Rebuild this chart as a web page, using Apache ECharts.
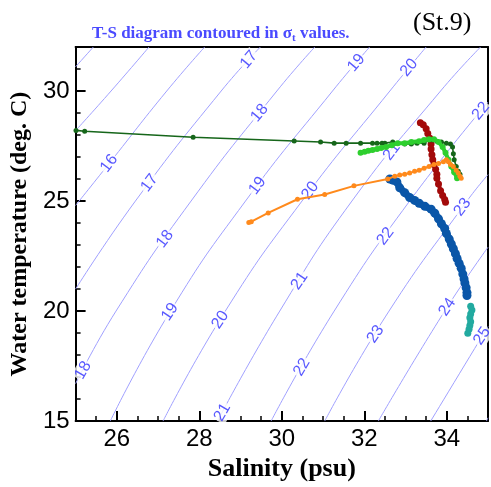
<!DOCTYPE html>
<html><head><meta charset="utf-8">
<script src="https://cdn.jsdelivr.net/npm/echarts@6/dist/echarts.min.js"></script>
<style>html,body{margin:0;padding:0;background:#fff}#c{width:491px;height:487px;background:#fff}</style>
</head><body><div id="c"></div>
<script>
// axis tick labels
const salinityLabels = [26, 28, 30, 32, 34];
const temperatureLabels = [15, 20, 25, 30];

// sigma-t contour lines, [salinity, temperature]
const sigma14 = [[25.00, 31.10], [25.43, 32.00]];
const sigma15 = [[25.00, 28.20], [25.86, 30.00], [26.78, 32.00]];
const sigma16 = [[25.00, 24.80], [25.81, 26.70], [27.21, 30.00], [28.13, 32.00]];
const sigma17 = [[25.00, 21.00], [26.45, 25.00], [28.53, 30.00], [29.48, 32.00]];
const sigma18 = [[25.00, 16.70], [25.98, 20.00], [27.80, 25.00], [29.88, 30.00], [30.80, 32.00]];
const sigma19 = [[25.84, 15.00], [27.30, 20.00], [29.12, 25.00], [31.23, 30.00], [32.13, 32.00]];
const sigma20 = [[27.12, 15.00], [28.63, 20.00], [30.49, 25.00], [32.62, 30.00], [33.50, 32.00]];
const sigma21 = [[28.44, 15.00], [29.95, 20.00], [31.70, 25.00], [33.85, 30.00], [34.82, 32.00]];
const sigma22 = [[29.74, 15.00], [31.27, 20.00], [33.10, 25.00], [35.00, 29.50]];
const sigma23 = [[31.04, 15.00], [32.60, 20.00], [34.49, 25.00], [35.00, 26.20]];
const sigma24 = [[32.34, 15.00], [33.95, 20.00], [35.00, 22.90]];
const sigma25 = [[33.61, 15.00], [35.00, 19.30]];
const sigma26 = [[34.96, 15.00], [35.00, 15.15]];
const sigmaLevels = [14, 15, 16, 17, 18, 19, 20, 21, 22, 23, 24, 25, 26];
const sigmaLines = [sigma14, sigma15, sigma16, sigma17, sigma18, sigma19, sigma20, sigma21, sigma22, sigma23, sigma24, sigma25, sigma26];

// contour labels: [sigma level, temperature where the label sits]
const contourLabels = [
  [16, 26.71], [17, 31.42], [17, 25.82], [18, 29.00], [18, 23.27], [18, 17.31],
  [19, 31.28], [19, 25.69], [19, 19.96], [20, 31.06], [20, 25.47], [20, 19.60],
  [21, 27.25], [21, 21.37], [21, 15.40], [22, 29.09], [22, 23.40], [22, 17.45],
  [23, 24.72], [23, 18.95], [24, 20.18], [25, 18.86]
];

// observed profiles [salinity, temperature]
const darkGreen = [[25.01,28.21],[25.22,28.17],[27.85,27.90],[30.30,27.73],[30.94,27.68],[31.27,27.63],[31.56,27.63],[31.91,27.63],[32.20,27.63],[32.31,27.63],[32.43,27.63],[32.50,27.63],[32.69,27.68],[32.98,27.59],[33.14,27.59],[33.28,27.63],[33.45,27.63],[33.57,27.77],[33.66,27.77],[33.76,27.72],[33.87,27.68],[33.99,27.63],[34.09,27.59],[34.14,27.46],[34.16,27.15],[34.18,26.88],[34.23,26.57],[34.28,26.35],[34.32,26.22]];
const lightGreen = [[31.91,27.19],[32.01,27.24],[32.10,27.28],[32.20,27.32],[32.31,27.37],[32.41,27.41],[32.53,27.46],[32.67,27.54],[32.81,27.63],[32.98,27.63],[33.14,27.68],[33.33,27.72],[33.45,27.77],[33.57,27.81],[33.69,27.81],[33.80,27.68],[33.90,27.46],[33.97,27.19],[34.04,26.88],[34.11,26.57],[34.18,26.31],[34.25,26.04]];
const darkRed = [[33.36,28.56],[33.43,28.47],[33.50,28.29],[33.54,28.07],[33.59,27.85],[33.62,27.59],[33.62,27.37],[33.64,27.10],[33.66,26.88],[33.69,26.66],[33.73,26.44],[33.76,26.22],[33.76,26.04],[33.80,25.78],[33.85,25.47],[33.90,25.25],[33.95,25.07],[33.97,24.94]];
const orange = [[29.20,24.02],[29.26,24.06],[29.67,24.46],[30.38,25.08],[31.04,25.30],[31.75,25.69],[32.57,26.00],[32.74,26.13],[32.86,26.18],[32.98,26.22],[33.10,26.27],[33.22,26.35],[33.33,26.40],[33.45,26.49],[33.57,26.57],[33.69,26.66],[33.80,26.71],[33.92,26.79],[33.99,26.88],[34.04,26.79],[34.09,26.66],[34.16,26.57],[34.23,26.40],[34.28,26.27],[34.32,26.13],[34.35,26.04]];
const blue = [[32.62,26.00],[32.69,25.95],[32.79,25.87],[32.86,25.60],[32.98,25.38],[33.10,25.16],[33.22,25.03],[33.33,24.90],[33.47,24.76],[33.62,24.63],[33.71,24.45],[33.80,24.19],[33.87,23.97],[33.95,23.75],[33.99,23.53],[34.06,23.27],[34.11,23.05],[34.16,22.83],[34.21,22.61],[34.25,22.39],[34.30,22.17],[34.35,21.95],[34.39,21.68],[34.42,21.46],[34.44,21.28],[34.47,21.06],[34.49,20.84],[34.49,20.71]];
const teal = [[34.58,20.22],[34.61,20.05],[34.58,19.87],[34.56,19.70],[34.58,19.52],[34.56,19.34],[34.54,19.17],[34.51,18.99]];

function salinityOnLine(line, t) {
  for (let i = 0; i < line.length - 1; i++) {
    const a = line[i], b = line[i + 1];
    if (t >= a[1] && t <= b[1]) return a[0] + (b[0] - a[0]) * (t - a[1]) / (b[1] - a[1]);
  }
  return line[line.length - 1][0];
}
function labelAngle(t) { return t < 18 ? 60 : t < 23 ? 56 : t < 28 ? 53 : 50; }

const contourColor = '#a0a0ff';
const labelColor = '#2f2fff';
const series = [];
sigmaLines.forEach((line, i) => {
  series.push({
    type: 'line', name: 'sigma' + sigmaLevels[i], data: line, smooth: true,
    symbol: 'none', lineStyle: { color: contourColor, width: 1 }, z: 1, silent: true
  });
});
series.push({
  type: 'scatter', symbolSize: 0, z: 2, silent: true,
  data: contourLabels.map(([sig, t]) => ({
    value: [salinityOnLine(sigmaLines[sigmaLevels.indexOf(sig)], t), t],
    label: { formatter: String(sig), rotate: labelAngle(t) }
  })),
  label: {
    show: true, position: 'inside', color: labelColor, fontSize: 16,
    fontFamily: 'Liberation Sans, Arial, sans-serif',
    backgroundColor: '#fff', padding: [0, 1]
  }
});
function profile(data, color, size, width, z) {
  return {
    type: 'line', data, symbol: 'circle', symbolSize: size, z,
    itemStyle: { color }, lineStyle: { color, width }, silent: true
  };
}
series.push(profile(darkGreen, '#16661a', 5, 1.6, 5));
series.push(profile(darkRed, '#a30a0a', 7, 4, 4));
series.push(profile(lightGreen, '#2ecf2e', 6, 4, 6));
series.push(profile(orange, '#ff8a1c', 5, 2, 7));
series.push(profile(blue, '#0a56a8', 9, 7, 4));
series.push(profile(teal, '#22aaa0', 7, 5, 4));

const tickFont = 'Liberation Sans, Arial, sans-serif';
const serif = 'Liberation Serif, Times New Roman, serif';
const chart = echarts.init(document.getElementById('c'), null, { renderer: 'canvas' });
chart.setOption({
  animation: false,
  title: [{
    text: 'T-S diagram contoured in σ{sub|t} values.', left: 92, top: 24, padding: 0,
    textStyle: { fontFamily: serif, fontWeight: 'bold', fontSize: 17, color: '#4a4aff', lineHeight: 20,
      rich: { sub: { fontFamily: serif, fontWeight: 'bold', fontSize: 11, color: '#4a4aff', lineHeight: 11, verticalAlign: 'bottom', padding: [6, 0, 0, 0] } } }
  }, {
    text: '(St.9)', left: 413, top: 10, padding: 0,
    textStyle: { fontFamily: serif, fontWeight: 'normal', fontSize: 26, color: '#000' }
  }],
  grid: { left: 68, top: 47, width: 422, height: 386 },
  xAxis: [{
    type: 'value', min: 25, max: 35, splitNumber: 5, position: 'bottom',
    name: 'Salinity (psu)', nameLocation: 'middle', nameGap: 22,
    nameTextStyle: { fontFamily: serif, fontWeight: 'bold', fontSize: 26, color: '#000' },
    axisLine: { show: true, onZero: false, lineStyle: { color: '#000', width: 2 } },
    axisTick: { show: true, inside: true, length: 10, lineStyle: { color: '#000', width: 2 } },
    minorTick: { show: true, splitNumber: 4, length: 5, lineStyle: { color: '#000', width: 1.5 } },
    axisLabel: { color: '#000', fontSize: 24, fontFamily: tickFont, margin: 6,
      formatter: v => (salinityLabels.indexOf(v) >= 0 ? String(v) : '') },
    splitLine: { show: false }
  }, {
    type: 'value', min: 25, max: 35, position: 'top',
    axisLine: { show: true, onZero: false, lineStyle: { color: '#000', width: 2 } },
    axisTick: { show: false }, axisLabel: { show: false }, splitLine: { show: false }
  }],
  yAxis: [{
    type: 'value', min: 15, max: 32, interval: 5, position: 'left',
    name: 'Water temperature (deg. C)', nameLocation: 'middle', nameGap: 36, nameRotate: 90,
    nameTextStyle: { fontFamily: serif, fontWeight: 'bold', fontSize: 24, color: '#000' },
    axisLine: { show: true, onZero: false, lineStyle: { color: '#000', width: 2 } },
    axisTick: { show: true, inside: true, length: 10, lineStyle: { color: '#000', width: 2 } },
    minorTick: { show: true, splitNumber: 5, length: 5, lineStyle: { color: '#000', width: 1.5 } },
    axisLabel: { color: '#000', fontSize: 24, fontFamily: tickFont, margin: 6,
      formatter: v => (temperatureLabels.indexOf(v) >= 0 ? String(v) : '') },
    splitLine: { show: false }
  }, {
    type: 'value', min: 15, max: 32, position: 'right',
    axisLine: { show: true, onZero: false, lineStyle: { color: '#000', width: 2 } },
    axisTick: { show: false }, axisLabel: { show: false }, splitLine: { show: false }
  }],
  series
});
</script></body></html>
